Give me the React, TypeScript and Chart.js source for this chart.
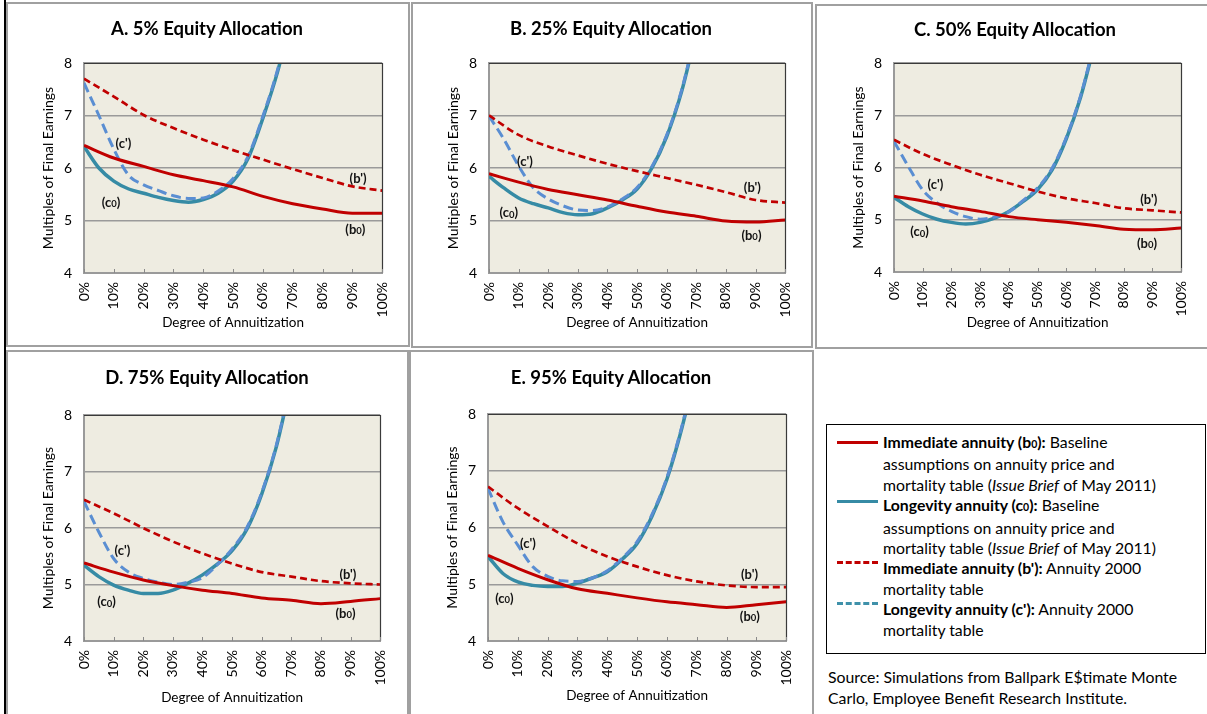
import React, { useEffect, useRef } from "react";
import { Chart, registerables } from "chart.js";
Chart.register(...registerables);

const FONT = "Lato, 'Open Sans', sans-serif";

// ---------- data ----------
const xCoarse = [0, 10, 20, 30, 40, 50, 60, 70, 80, 90, 100];
const xFine = [0, 5, 10, 15, 20, 25, 30, 35, 40, 45, 50, 55, 60, 65, 70];
const yTickValues = [4, 5, 6, 7, 8];
const panelTitles = [
  "A. 5% Equity Allocation",
  "B. 25% Equity Allocation",
  "C. 50% Equity Allocation",
  "D. 75% Equity Allocation",
  "E. 95% Equity Allocation",
];

const A_b0 = [6.43, 6.19, 6.03, 5.87, 5.76, 5.64, 5.46, 5.32, 5.22, 5.14, 5.14];
const A_bp = [7.7, 7.36, 7.01, 6.76, 6.54, 6.34, 6.16, 5.98, 5.81, 5.65, 5.57];
const A_c0 = [6.41, 6.0, 5.75, 5.6, 5.52, 5.44, 5.38, 5.35, 5.4, 5.52, 5.75, 6.18, 6.95, 7.85, 9.0];
const A_cp = [7.62, 7.0, 6.36, 5.86, 5.68, 5.57, 5.47, 5.42, 5.43, 5.56, 5.8, 6.22, 6.99, 7.89, 9.05];

const B_b0 = [5.89, 5.73, 5.59, 5.49, 5.39, 5.27, 5.16, 5.08, 4.99, 4.97, 5.01];
const B_bp = [7.0, 6.63, 6.41, 6.24, 6.08, 5.94, 5.81, 5.68, 5.54, 5.39, 5.34];
const B_c0 = [5.84, 5.62, 5.43, 5.32, 5.24, 5.15, 5.11, 5.13, 5.24, 5.39, 5.6, 6.0, 6.6, 7.45, 8.6];
const B_cp = [6.99, 6.55, 6.04, 5.62, 5.41, 5.28, 5.2, 5.19, 5.26, 5.41, 5.63, 6.03, 6.63, 7.48, 8.63];

const C_b0 = [5.45, 5.36, 5.25, 5.16, 5.06, 5.0, 4.95, 4.89, 4.82, 4.81, 4.84];
const C_bp = [6.53, 6.26, 6.05, 5.86, 5.7, 5.54, 5.41, 5.32, 5.22, 5.18, 5.14];
const C_c0 = [5.43, 5.25, 5.11, 5.01, 4.95, 4.92, 4.95, 5.03, 5.16, 5.35, 5.58, 5.95, 6.55, 7.35, 8.4];
const C_cp = [6.5, 6.02, 5.57, 5.32, 5.16, 5.06, 5.01, 5.05, 5.15, 5.37, 5.61, 5.98, 6.58, 7.38, 8.43];

const D_b0 = [5.38, 5.22, 5.08, 4.98, 4.9, 4.84, 4.76, 4.72, 4.66, 4.7, 4.75];
const D_bp = [6.5, 6.26, 6.0, 5.76, 5.55, 5.37, 5.22, 5.14, 5.06, 5.02, 5.0];
const D_c0 = [5.34, 5.14, 4.99, 4.9, 4.84, 4.84, 4.9, 5.02, 5.17, 5.36, 5.6, 5.98, 6.6, 7.45, 8.6];
const D_cp = [6.47, 5.93, 5.46, 5.22, 5.11, 5.04, 5.0, 5.04, 5.12, 5.35, 5.63, 6.01, 6.63, 7.48, 8.63];

const E_b0 = [5.51, 5.28, 5.08, 4.92, 4.84, 4.76, 4.69, 4.64, 4.59, 4.64, 4.69];
const E_bp = [6.72, 6.34, 6.02, 5.72, 5.49, 5.31, 5.16, 5.05, 4.98, 4.95, 4.95];
const E_c0 = [5.49, 5.19, 5.04, 4.98, 4.96, 4.96, 5.02, 5.11, 5.22, 5.44, 5.72, 6.2, 6.85, 7.75, 8.85];
const E_cp = [6.69, 6.1, 5.69, 5.31, 5.14, 5.06, 5.05, 5.11, 5.24, 5.46, 5.75, 6.23, 6.88, 7.78, 8.88];

// curve annotations: [text, subscript, x (%), y (multiple)]
const A_labels: [string, string, number, number][] = [["(c')", "", 13.2, 6.47], ["(c", "0", 9.1, 5.34], ["(b')", "", 91.9, 5.8], ["(b", "0", 91, 4.83]];
const B_labels: [string, string, number, number][] = [["(c')", "", 12.1, 6.11], ["(c", "0", 6.7, 5.14], ["(b')", "", 88.9, 5.63], ["(b", "0", 88.6, 4.71]];
const C_labels: [string, string, number, number][] = [["(c')", "", 14.4, 5.66], ["(c", "0", 8.9, 4.76], ["(b')", "", 88.7, 5.38], ["(b", "0", 88.1, 4.54]];
const D_labels: [string, string, number, number][] = [["(c')", "", 13, 5.6], ["(c", "0", 7.6, 4.69], ["(b')", "", 89.1, 5.18], ["(b", "0", 88.3, 4.49]];
const E_labels: [string, string, number, number][] = [["(c')", "", 13.4, 5.71], ["(c", "0", 5.5, 4.75], ["(b')", "", 87.7, 5.16], ["(b", "0", 87.8, 4.43]];

// ---------- styles ----------
const RED = "#C00000";
const TEAL = "#368BA5";
const BLUE_DASH = "#5A8ED2";
const LEGEND_DASH = "#3F91AA";
const PLOT_BG = "#EEECE1";

type Rect = { l: number; t: number; r: number; b: number };
type PanelCfg = {
  title: string;
  box: Rect;
  canvas: Rect;
  plot: Rect;
  titleX: number;
  titleY: number;
  yTitleX: number;
  xTitleY: number;
  b0: number[];
  bp: number[];
  c0: number[];
  cp: number[];
  labels: [string, string, number, number][];
};

const panels: PanelCfg[] = [
  { title: panelTitles[0], box: { l: 6, t: 2, r: 410, b: 347 }, canvas: { l: 8, t: 4, r: 408, b: 345 }, plot: { l: 84, t: 63, r: 392, b: 273 }, titleX: 207, titleY: 28, yTitleX: 48, xTitleY: 323, b0: A_b0, bp: A_bp, c0: A_c0, cp: A_cp, labels: A_labels },
  { title: panelTitles[1], box: { l: 411, t: 2, r: 813, b: 348 }, canvas: { l: 413, t: 4, r: 811, b: 346 }, plot: { l: 489, t: 63, r: 794, b: 273 }, titleX: 611, titleY: 28, yTitleX: 453, xTitleY: 323, b0: B_b0, bp: B_bp, c0: B_c0, cp: B_cp, labels: B_labels },
  { title: panelTitles[2], box: { l: 815, t: 4, r: 1212, b: 349 }, canvas: { l: 817, t: 6, r: 1207, b: 347 }, plot: { l: 894, t: 63, r: 1198, b: 272 }, titleX: 1015, titleY: 29, yTitleX: 858, xTitleY: 323, b0: C_b0, bp: C_bp, c0: C_c0, cp: C_cp, labels: C_labels },
  { title: panelTitles[3], box: { l: 6, t: 350, r: 409, b: 722 }, canvas: { l: 8, t: 352, r: 406, b: 714 }, plot: { l: 84, t: 415, r: 391, b: 641 }, titleX: 207, titleY: 377, yTitleX: 48, xTitleY: 698, b0: D_b0, bp: D_bp, c0: D_c0, cp: D_cp, labels: D_labels },
  { title: panelTitles[4], box: { l: 409, t: 350, r: 814, b: 722 }, canvas: { l: 411, t: 352, r: 812, b: 714 }, plot: { l: 488, t: 414, r: 795, b: 641 }, titleX: 611, titleY: 377, yTitleX: 452, xTitleY: 696, b0: E_b0, bp: E_bp, c0: E_c0, cp: E_cp, labels: E_labels },
];

const pts = (xs: number[], ys: number[]) => ys.map((y, i) => ({ x: xs[i], y }));

function Panel({ cfg }: { cfg: PanelCfg }) {
  const ref = useRef<HTMLCanvasElement | null>(null);
  const W = cfg.canvas.r - cfg.canvas.l;
  const H = cfg.canvas.b - cfg.canvas.t;

  useEffect(() => {
    if (!ref.current) return;
    const yAxisW = cfg.plot.l - cfg.canvas.l;
    const xAxisH = cfg.canvas.b - cfg.plot.b;
    const padTop = cfg.plot.t - cfg.canvas.t;
    const padRight = cfg.canvas.r - cfg.plot.r;
    const tickFont = { family: FONT, size: 14 };
    const yTitleFont = { family: FONT, size: 14 };
    const xTitleFont = { family: FONT, size: 13.5 };
    const yTitlePad = cfg.yTitleX - cfg.canvas.l - (14 * 1.2) / 2;
    const xTitlePad = cfg.canvas.b - cfg.xTitleY - (13.5 * 1.2) / 2;

    const bgPlugin = {
      id: "plotbg",
      beforeDraw(chart: any) {
        const { ctx, chartArea: a } = chart;
        ctx.save();
        ctx.fillStyle = PLOT_BG;
        ctx.fillRect(a.left, a.top, a.right - a.left, a.bottom - a.top);
        ctx.restore();
      },
      afterDraw(chart: any) {
        const { ctx, chartArea: a } = chart;
        const xs = chart.scales.x;
        ctx.save();
        ctx.strokeStyle = "#3a3a3a";
        ctx.lineWidth = 1.2;
        ctx.beginPath();
        ctx.moveTo(a.left, Math.round(a.top) + 0.5);
        ctx.lineTo(Math.round(a.right) + 0.5, Math.round(a.top) + 0.5);
        ctx.lineTo(Math.round(a.right) + 0.5, a.bottom);
        ctx.stroke();
        ctx.strokeStyle = "#8a8a8a";
        ctx.lineWidth = 1;
        for (const v of xCoarse) {
          const px = Math.round(xs.getPixelForValue(v)) + 0.5;
          ctx.beginPath();
          ctx.moveTo(px, a.bottom);
          ctx.lineTo(px, a.bottom - 4);
          ctx.stroke();
        }
        const ys = chart.scales.y;
        ctx.fillStyle = "#111";
        ctx.textBaseline = "middle";
        for (const [t, sub, lx, ly] of cfg.labels) {
          const main = `bold 13px ${FONT}`;
          const small = `bold 9.5px ${FONT}`;
          ctx.font = main;
          const w1 = ctx.measureText(t).width;
          let w2 = 0;
          let w3 = 0;
          if (sub) {
            ctx.font = small;
            w2 = ctx.measureText(sub).width;
            ctx.font = main;
            w3 = ctx.measureText(")").width;
          }
          const total = w1 + w2 + w3;
          let px = xs.getPixelForValue(lx) - total / 2;
          const py = ys.getPixelForValue(ly);
          ctx.font = main;
          ctx.textAlign = "left";
          ctx.fillText(t, px, py);
          if (sub) {
            px += w1;
            ctx.font = small;
            ctx.fillText(sub, px, py + 1.5);
            px += w2;
            ctx.font = main;
            ctx.fillText(")", px, py);
          }
        }
        ctx.restore();
      },
    };

    const chart = new Chart(ref.current, {
      type: "line",
      data: {
        datasets: [
          { label: "b0", data: pts(xCoarse, cfg.b0), borderColor: RED, borderWidth: 3, pointRadius: 0, cubicInterpolationMode: "monotone", fill: false },
          { label: "b'", data: pts(xCoarse, cfg.bp), borderColor: RED, borderWidth: 2.7, borderDash: [7, 4], pointRadius: 0, cubicInterpolationMode: "monotone", fill: false },
          { label: "c'", data: pts(xFine, cfg.cp), borderColor: BLUE_DASH, borderWidth: 3, borderDash: [10, 5], pointRadius: 0, cubicInterpolationMode: "monotone", fill: false },
          { label: "c0", data: pts(xFine, cfg.c0), borderColor: TEAL, borderWidth: 3.5, pointRadius: 0, cubicInterpolationMode: "monotone", fill: false },
        ],
      },
      options: {
        responsive: false,
        animation: false,
        devicePixelRatio: 1,
        layout: { padding: { left: 0, right: padRight, top: padTop, bottom: 0 } },
        plugins: { legend: { display: false }, tooltip: { enabled: false }, title: { display: false } },
        scales: {
          x: {
            type: "linear",
            min: 0,
            max: 100,
            afterBuildTicks: (s: any) => {
              s.ticks = xCoarse.map((v) => ({ value: v }));
            },
            ticks: {
              autoSkip: false,
              maxRotation: 90,
              minRotation: 90,
              padding: 9,
              color: "#000",
              font: tickFont,
              callback: (v: any) => `${v}%`,
            },
            grid: { display: false, drawTicks: false },
            border: { display: true, color: "#9a9a9a", width: 2 },
            title: { display: true, text: "Degree of Annuitization", color: "#000", font: xTitleFont, padding: { top: 0, bottom: xTitlePad } },
            afterFit: (s: any) => {
              s.height = xAxisH;
            },
          },
          y: {
            type: "linear",
            min: 4,
            max: 8,
            afterBuildTicks: (s: any) => {
              s.ticks = yTickValues.map((v) => ({ value: v }));
            },
            ticks: { padding: 12, color: "#000", font: tickFont },
            grid: { color: "#9a9a9a", lineWidth: 1.5, drawTicks: false },
            border: { display: true, color: "#9a9a9a", width: 2 },
            title: { display: true, text: "Multiples of Final Earnings", color: "#000", font: yTitleFont, padding: { top: yTitlePad, bottom: 0 } },
            afterFit: (s: any) => {
              s.width = yAxisW;
            },
          },
        },
      },
      plugins: [bgPlugin],
    } as any);
    return () => chart.destroy();
  }, [cfg]);

  return (
    <>
      <div
        style={{
          position: "absolute",
          left: cfg.box.l,
          top: cfg.box.t,
          width: cfg.box.r - cfg.box.l,
          height: cfg.box.b - cfg.box.t,
          border: "2px solid #a0a0a0",
          boxSizing: "border-box",
        }}
      />
      <canvas
        ref={ref}
        width={W}
        height={H}
        style={{ position: "absolute", left: cfg.canvas.l, top: cfg.canvas.t, width: W, height: H }}
      />
      <div
        style={{
          position: "absolute",
          left: cfg.titleX - 200,
          width: 400,
          top: cfg.titleY - 13,
          height: 26,
          lineHeight: "26px",
          textAlign: "center",
          fontFamily: FONT,
          fontWeight: 700,
          fontSize: 18.5,
          color: "#000",
        }}
      >
        {cfg.title}
      </div>
    </>
  );
}

const Sub0 = () => <span style={{ fontSize: 10.5 }}>0</span>;

function LegendSample({ top, color, dash }: { top: number; color: string; dash?: boolean }) {
  return (
    <div
      style={{
        position: "absolute",
        left: 837,
        top: top - 2,
        width: 41,
        height: 0,
        borderTop: `3.5px ${dash ? "dashed" : "solid"} ${color}`,
      }}
    />
  );
}

export default function App() {
  const textStyle: React.CSSProperties = {
    position: "absolute",
    fontFamily: FONT,
    fontSize: 15.8,
    lineHeight: "20.4px",
    color: "#000",
    whiteSpace: "nowrap",
  };
  return (
    <div style={{ position: "absolute", left: 0, top: 0, width: 1207, height: 714, overflow: "hidden", background: "#fff" }}>
      <div style={{ position: "absolute", left: 4, top: 0, width: 2, height: 714, background: "#000" }} />
      {panels.map((p, i) => (
        <Panel key={i} cfg={p} />
      ))}
      <div style={{ position: "absolute", left: 826, top: 424, width: 380, height: 230, border: "1px solid #000", boxSizing: "border-box" }} />
      <LegendSample top={443} color={RED} />
      <LegendSample top={502} color={TEAL} />
      <LegendSample top={563} color={RED} dash />
      <LegendSample top={604} color={LEGEND_DASH} dash />
      <div style={{ ...textStyle, left: 883, top: 432 }}>
        <b>Immediate annuity (b<Sub0 />):</b> Baseline
        <br />
        assumptions on annuity price and
        <br />
        mortality table (<i>Issue Brief</i> of May 2011)
        <br />
        <b>Longevity annuity (c<Sub0 />):</b> Baseline
        <br />
        assumptions on annuity price and
        <br />
        mortality table (<i>Issue Brief</i> of May 2011)
        <br />
        <b>Immediate annuity (b'):</b> Annuity 2000
        <br />
        mortality table
        <br />
        <b>Longevity annuity (c'):</b> Annuity 2000
        <br />
        mortality table
      </div>
      <div style={{ ...textStyle, left: 828, top: 666, lineHeight: "21px" }}>
        Source: Simulations from Ballpark E$timate Monte
        <br />
        Carlo, Employee Benefit Research Institute.
      </div>
    </div>
  );
}
